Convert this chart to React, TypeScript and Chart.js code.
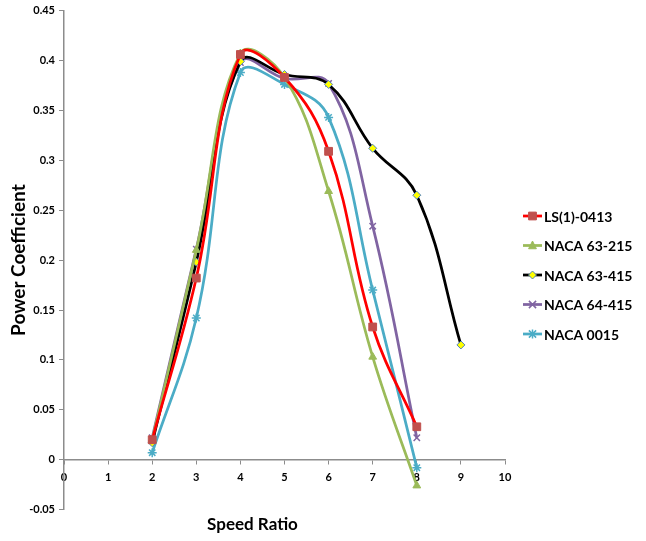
import React, { useEffect, useRef } from "react";
import { Chart, registerables } from "chart.js";

Chart.register(...registerables);

const xValues = [2, 3, 4, 5, 6, 7, 8, 9];
const ls0413 = [0.02, 0.182, 0.406, 0.383, 0.309, 0.133, 0.033];
const naca63215 = [0.02, 0.21, 0.407, 0.383, 0.269, 0.103, -0.026];
const naca63415 = [0.017, 0.198, 0.399, 0.386, 0.376, 0.312, 0.265, 0.115];
const naca64415 = [0.022, 0.211, 0.398, 0.382, 0.377, 0.234, 0.022];
const naca0015 = [0.007, 0.142, 0.388, 0.376, 0.343, 0.17, -0.008];
const seriesNames = ["LS(1)-0413", "NACA 63-215", "NACA 63-415", "NACA 64-415", "NACA 0015"];
const yTicks = [-0.05, 0, 0.05, 0.1, 0.15, 0.2, 0.25, 0.3, 0.35, 0.4, 0.45];

const FONT = "Lato, 'Open Sans', sans-serif";
const AXIS_GRAY = "#8c8c8c";

const toPts = (vals: number[]) => vals.map((v, i) => ({ x: xValues[i], y: v }));

function drawPointShape(ctx: CanvasRenderingContext2D, style: string, r: number, x: number, y: number) {
  ctx.beginPath();
  if (style === "rect") {
    const s = Math.SQRT1_2 * r;
    ctx.rect(x - s, y - s, 2 * s, 2 * s);
    ctx.fill();
    ctx.stroke();
  } else if (style === "triangle") {
    ctx.moveTo(x, y - r);
    ctx.lineTo(x + r * 0.866, y + r * 0.5 + 1);
    ctx.lineTo(x - r * 0.866, y + r * 0.5 + 1);
    ctx.closePath();
    ctx.fill();
    ctx.stroke();
  } else if (style === "rectRot") {
    ctx.moveTo(x, y - r);
    ctx.lineTo(x + r, y);
    ctx.lineTo(x, y + r);
    ctx.lineTo(x - r, y);
    ctx.closePath();
    ctx.fill();
    ctx.stroke();
  } else if (style === "crossRot") {
    const s = r * 0.8;
    ctx.moveTo(x - s, y - s);
    ctx.lineTo(x + s, y + s);
    ctx.moveTo(x - s, y + s);
    ctx.lineTo(x + s, y - s);
    ctx.stroke();
  } else if (style === "star") {
    const s = r * 0.8;
    ctx.moveTo(x - s, y - s);
    ctx.lineTo(x + s, y + s);
    ctx.moveTo(x - s, y + s);
    ctx.lineTo(x + s, y - s);
    ctx.moveTo(x, y - r);
    ctx.lineTo(x, y + r);
    ctx.stroke();
  }
}

const legendPlugin = {
  id: "customLegend",
  afterDraw(chart: any) {
    const ctx = chart.ctx;
    const startY = 216;
    const gap = 29.5;
    chart.data.datasets.forEach((ds: any, i: number) => {
      const y = startY + i * gap;
      ctx.save();
      ctx.strokeStyle = ds.borderColor;
      ctx.lineWidth = 2.75;
      ctx.beginPath();
      ctx.moveTo(523, y);
      ctx.lineTo(542, y);
      ctx.stroke();
      ctx.fillStyle = ds.pointBackgroundColor;
      ctx.strokeStyle = ds.pointBorderColor;
      ctx.lineWidth = ds.pointBorderWidth;
      drawPointShape(ctx, ds.pointStyle, ds.pointRadius, 532.5, y);
      ctx.fillStyle = "#000";
      ctx.font = `bold 14px ${FONT}`;
      ctx.textBaseline = "middle";
      ctx.textAlign = "left";
      ctx.fillText(ds.label, 544, y + 1);
      ctx.restore();
    });
  },
};

export default function App() {
  const ref = useRef<HTMLCanvasElement>(null);
  useEffect(() => {
    if (!ref.current) return;
    const common = { borderWidth: 2.75, tension: 0.4, fill: false, pointHoverRadius: 5 };
    const chart = new Chart(ref.current, {
      type: "line",
      data: {
        datasets: [
          {
            ...common,
            label: seriesNames[0],
            data: toPts(ls0413),
            borderColor: "#FF0000",
            pointStyle: "rect",
            pointRadius: 5.5,
            pointBackgroundColor: "#C0504D",
            pointBorderColor: "#C0504D",
            pointBorderWidth: 1,
          },
          {
            ...common,
            label: seriesNames[1],
            data: toPts(naca63215),
            borderColor: "#9BBB59",
            pointStyle: "triangle",
            pointRadius: 4.5,
            pointBackgroundColor: "#9BBB59",
            pointBorderColor: "#9BBB59",
            pointBorderWidth: 1,
          },
          {
            ...common,
            label: seriesNames[2],
            data: toPts(naca63415),
            borderColor: "#000000",
            pointStyle: "rectRot",
            pointRadius: 4,
            pointBackgroundColor: "#FFFF00",
            pointBorderColor: "#4F81BD",
            pointBorderWidth: 1,
          },
          {
            ...common,
            label: seriesNames[3],
            data: toPts(naca64415),
            borderColor: "#8064A2",
            pointStyle: "crossRot",
            pointRadius: 4.5,
            pointBackgroundColor: "#8064A2",
            pointBorderColor: "#8064A2",
            pointBorderWidth: 1.5,
          },
          {
            ...common,
            label: seriesNames[4],
            data: toPts(naca0015),
            borderColor: "#4BACC6",
            pointStyle: "star",
            pointRadius: 4.5,
            pointBackgroundColor: "#4BACC6",
            pointBorderColor: "#4BACC6",
            pointBorderWidth: 1.5,
          },
        ],
      },
      options: {
        animation: false,
        responsive: false,
        maintainAspectRatio: false,
        layout: { padding: { top: 10, right: 141, left: 0, bottom: 0 } },
        plugins: {
          legend: { display: false },
          tooltip: { enabled: false },
          title: {
            display: true,
            position: "bottom",
            text: "Speed Ratio",
            color: "#000",
            font: { family: FONT, size: 17, weight: "bold" },
            padding: { top: 5, bottom: 6 },
          },
        },
        scales: {
          x: {
            type: "linear",
            position: { y: 0 } as any,
            min: 0,
            max: 10,
            ticks: {
              stepSize: 1,
              color: "#000",
              font: { family: FONT, size: 11, weight: "bold" },
              padding: 7,
              maxRotation: 0,
            },
            grid: { display: true, drawOnChartArea: false, drawTicks: true, tickLength: 4, color: AXIS_GRAY },
            border: { display: true, color: AXIS_GRAY, width: 1.5 },
          },
          y: {
            type: "linear",
            min: -0.05,
            max: 0.45,
            afterBuildTicks: (s: any) => {
              s.ticks = yTicks.map((v) => ({ value: v }));
            },
            ticks: {
              color: "#000",
              font: { family: FONT, size: 11, weight: "bold" },
              padding: 4,
              callback: (v: any) => String(Number(Number(v).toFixed(2))),
            },
            grid: { display: true, drawOnChartArea: false, drawTicks: true, tickLength: 5, color: AXIS_GRAY },
            border: { display: true, color: AXIS_GRAY, width: 1.5 },
            title: {
              display: true,
              text: "Power Coefficient",
              color: "#000",
              font: { family: FONT, size: 19, weight: "bold" },
              padding: { top: 7, bottom: 0 },
            },
            afterFit: (s: any) => {
              s.width = 64;
            },
          },
        },
      },
      plugins: [legendPlugin],
    } as any);
    return () => chart.destroy();
  }, []);
  return (
    <div style={{ position: "absolute", left: 0, top: 0, width: 646, height: 541, background: "#fff" }}>
      <canvas ref={ref} width={646} height={541} style={{ width: 646, height: 541 }} />
    </div>
  );
}
